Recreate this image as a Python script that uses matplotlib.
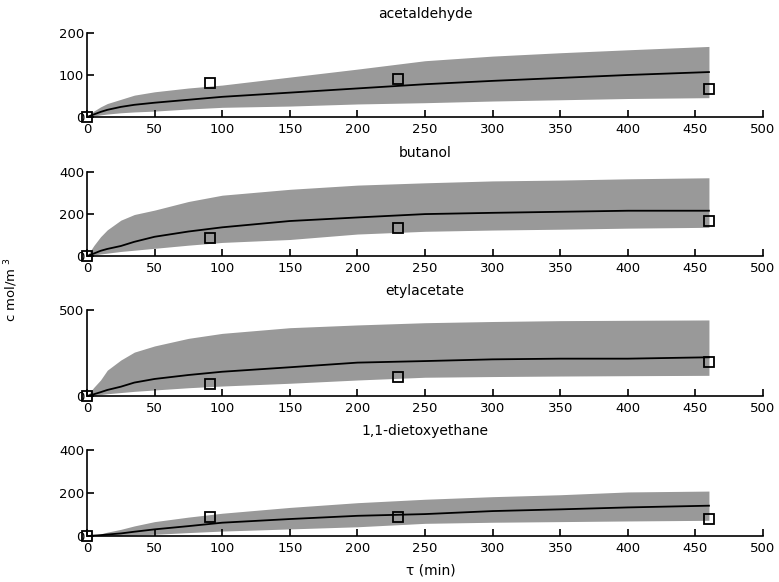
import matplotlib

matplotlib.use("Agg")
import matplotlib.pyplot as plt
import numpy as np

plt.rcParams["font.family"] = ["DejaVu Sans"]

# simulation grid (min)
t_sim = [0, 5, 10, 15, 25, 35, 50, 75, 100, 150, 200, 250, 300, 350, 400, 460]

# measured samples (min)
t_meas = [0, 91, 230, 460]

names = ["acetaldehyde", "butanol", "etylacetate", "1,1-dietoxyethane"]

acet_mean = [0, 6, 12, 17, 24, 29, 34, 41, 48, 58, 68, 78, 86, 93, 100, 107]
acet_hi = [0, 14, 24, 32, 42, 52, 60, 69, 76, 95, 114, 134, 145, 153, 160, 168]
acet_lo = [0, 2, 5, 7, 10, 12, 14, 19, 23, 26, 31, 34, 38, 41, 44, 46]
acet_meas = [0, 80, 90, 67]

but_mean = [0, 12, 25, 34, 48, 68, 92, 117, 137, 167, 184, 200, 206, 211, 216, 216]
but_hi = [0, 50, 92, 125, 171, 198, 219, 260, 290, 318, 338, 349, 358, 362, 368, 373]
but_lo = [0, 5, 10, 14, 22, 28, 37, 52, 65, 79, 105, 118, 124, 128, 133, 137]
but_meas = [0, 87, 132, 167]

ety_mean = [0, 10, 22, 35, 54, 78, 99, 122, 141, 167, 194, 203, 213, 217, 217, 225]
ety_hi = [0, 50, 93, 150, 209, 255, 291, 335, 364, 397, 413, 426, 433, 438, 440, 442]
ety_lo = [0, 4, 8, 13, 20, 27, 35, 48, 58, 74, 93, 109, 113, 116, 118, 120]
ety_meas = [0, 72, 112, 196]

dee_mean = [0, 2, 4, 7, 12, 20, 31, 46, 62, 79, 94, 102, 116, 124, 133, 141]
dee_hi = [0, 4, 10, 18, 31, 47, 67, 88, 106, 133, 155, 171, 183, 192, 205, 209]
dee_lo = [0, 0, 1, 2, 3, 5, 8, 16, 23, 33, 43, 59, 64, 67, 70, 73]
dee_meas = [0, 90, 88, 79]

series = [
    (acet_mean, acet_lo, acet_hi, acet_meas, [0, 100, 200], 200),
    (but_mean, but_lo, but_hi, but_meas, [0, 200, 400], 400),
    (ety_mean, ety_lo, ety_hi, ety_meas, [0, 500], 500),
    (dee_mean, dee_lo, dee_hi, dee_meas, [0, 200, 400], 400),
]

# axes boxes in figure fractions: left, bottom, width, height
boxes = [
    [0.1117, 0.799, 0.8678, 0.1443],
    [0.1117, 0.560, 0.8678, 0.1443],
    [0.1117, 0.3196, 0.8678, 0.1478],
    [0.1117, 0.079, 0.8678, 0.1478],
]

fig = plt.figure(figsize=(7.79, 5.82), dpi=100)

for name, box, (mean, lo, hi, meas, yticks, ymax) in zip(names, boxes, series):
    ax = fig.add_axes(box)
    ax.fill_between(t_sim, lo, hi, color="#999999", lw=0)
    ax.plot(t_sim, mean, color="black", lw=1.3)
    ax.plot(t_meas, meas, "s", ms=7, mfc="none", mec="black", mew=1.3,
            clip_on=False)
    ax.set_xlim(0, 500)
    ax.set_ylim(0, ymax)
    ax.set_xticks(np.arange(0, 501, 50))
    ax.set_yticks(yticks)
    ax.spines["top"].set_visible(False)
    ax.spines["right"].set_visible(False)
    for s in ("left", "bottom"):
        ax.spines[s].set_linewidth(1.2)
    ax.tick_params(direction="in", length=5, width=1.2, labelsize=9.5)
    ax.tick_params(axis="x", pad=4)
    ax.tick_params(axis="y", pad=2)
    ax.set_title(name, fontsize=10, pad=11)
    ax.set_facecolor("none")

fig.text(0.014, 0.502, "c mol/m $^{3}$", rotation=90, fontsize=9.5,
         ha="center", va="center")
fig.text(0.553, 0.02, "τ (min)", fontsize=10, ha="center", va="center")

fig.savefig("out.png", dpi=100)
